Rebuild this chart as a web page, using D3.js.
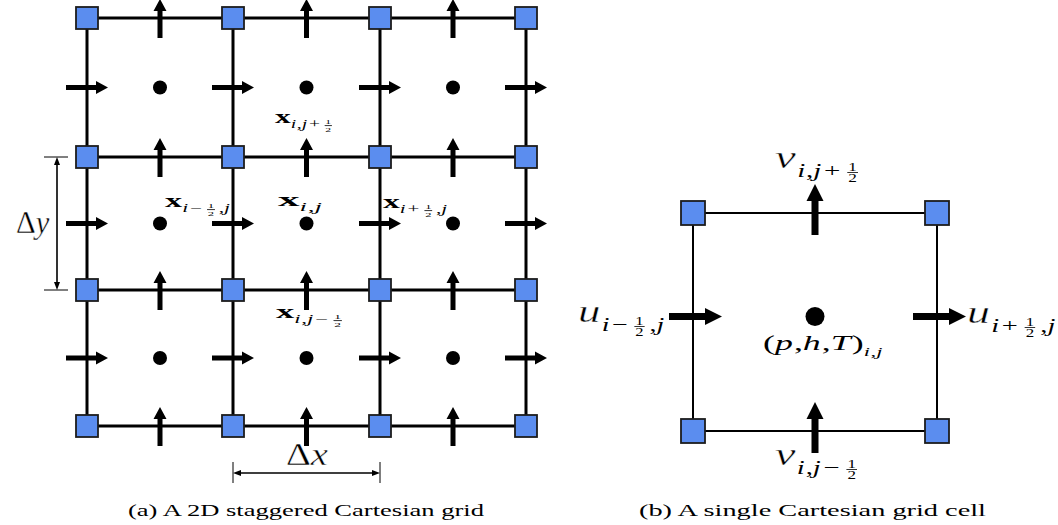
<!DOCTYPE html>
<html>
<head>
<meta charset="utf-8">
<script src="https://cdn.jsdelivr.net/npm/d3@7/dist/d3.min.js"></script>
<style>
  body { margin: 0; background: #fff; }
  svg { display: block; }
  text { font-family: 'Liberation Serif', 'Times New Roman', serif; fill: #000; }
  tspan.thin { stroke: #fff; stroke-width: 0.4px; }
</style>
</head>
<body>
<div id="chart"></div>
<script>
// grid units: line indices and cell centres
const gridLines = [0, 1, 2, 3];
const cellCentres = [0.5, 1.5, 2.5];
const cellEdges = [0, 1];
const cellCentre = [0.5, 0.475];

// labels: base symbol + subscript (½ is drawn as a stacked fraction)
const gridLabels = [
  {base: 'x', bold: true, sub: 'i,j+½'},
  {base: 'x', bold: true, sub: 'i−½,j'},
  {base: 'x', bold: true, sub: 'i,j'},
  {base: 'x', bold: true, sub: 'i+½,j'},
  {base: 'x', bold: true, sub: 'i,j−½'}
];
const cellLabels = [
  {base: 'v', sub: 'i,j+½'},
  {base: 'v', sub: 'i,j−½'},
  {base: 'u', sub: 'i−½,j'},
  {base: 'u', sub: 'i+½,j'},
  {base: '(p,h,T)', sub: 'i,j'}
];
const spacingLabels = [
  {base: 'Δy', sub: ''},
  {base: 'Δx', sub: ''}
];
const captions = ['(a) A 2D staggered Cartesian grid', '(b) A single Cartesian grid cell'];

const W = 1058, H = 525;
const nodeFill = '#5b8def', nodeStroke = '#1c1c1c';

const svg = d3.select('#chart').append('svg')
    .attr('width', W)
    .attr('height', H);

const x = d3.scaleLinear().domain([0, 1, 2, 3]).range([87, 233, 380, 526]);
const y = d3.scaleLinear().domain([0, 1, 2, 3]).range([18, 157, 290, 426]);
const cx = d3.scaleLinear().domain([0, 1]).range([693, 937]);
const cy = d3.scaleLinear().domain([0, 1]).range([213, 431]);

// filled arrow: shaft width sw, head width hw, head length hl
const arrowPath = (x0, y0, x1, y1, sw, hw, hl) => {
  const dx = x1 - x0, dy = y1 - y0, L = Math.hypot(dx, dy);
  const ux = dx / L, uy = dy / L, px = -uy, py = ux;
  const bx = x1 - ux * hl, by = y1 - uy * hl;
  const pts = [
    [x0 + px * sw / 2, y0 + py * sw / 2],
    [bx + px * sw / 2, by + py * sw / 2],
    [bx + px * hw / 2, by + py * hw / 2],
    [x1, y1],
    [bx - px * hw / 2, by - py * hw / 2],
    [bx - px * sw / 2, by - py * sw / 2],
    [x0 - px * sw / 2, y0 - py * sw / 2]
  ];
  return d3.line()(pts) + 'Z';
};

// math-ish label as one text element, fitted into [left, right] at a baseline
function mathLabel(g, lab, size, box) {
  const grp = g.append('g');
  const inner = grp.append('g');
  const txt = inner.append('text');
  let pos = 0;
  const put = (s, fs, dy, italic, bold, anchorMid) => {
    const t = txt.append('tspan')
        .attr('class', fs >= 28 ? 'thin' : null)
        .attr('x', pos)
        .attr('y', dy)
        .style('font-size', fs + 'px')
        .style('font-style', italic ? 'italic' : 'normal')
        .style('font-weight', bold ? 'bold' : 'normal')
        .text(s);
    return t.node().getComputedTextLength();
  };
  for (const ch of lab.base) {
    const italic = !lab.bold && /[a-zA-Z]/.test(ch);
    pos += put(ch, size, 0, italic, lab.bold) + (italic ? size * 0.03 : 0);
  }
  const ss = size * 0.62, sdy = size * 0.28;
  const fs = size * 0.37, bar = sdy - size * 0.14;
  for (const ch of lab.sub) {
    if (ch === '½') {
      const w = fs * 0.62;
      pos += fs * 0.3;
      const start = pos;
      pos = start + w / 2 - fs * 0.25;
      put('1', fs, bar - 1.3, false, false);
      put('2', fs, bar + 1.3 + fs * 0.68, false, false);
      inner.append('line').attr('x1', start).attr('x2', start + w)
          .attr('y1', bar).attr('y2', bar)
          .attr('stroke', '#000').attr('stroke-width', 0.8);
      pos = start + w + fs * 0.3;
    } else if (ch === '+' || ch === '−') {
      pos += ss * 0.06;
      pos += put(ch, ss, sdy, false, false);
      pos += ss * 0.06;
    } else {
      const italic = /[a-zA-Z]/.test(ch);
      pos += put(ch, ss, sdy, italic, false) + (italic ? ss * 0.03 : 0);
    }
  }
  const bb = inner.node().getBBox();
  const sx = (box[1] - box[0]) / bb.width;
  grp.attr('transform', `translate(${box[0] - bb.x * sx},${box[2]}) scale(${sx},1)`);
}

// ---------- (a) staggered grid ----------
const ga = svg.append('g');

ga.append('g').selectAll('line')
    .data(gridLines)
    .join('line')
    .attr('x1', x(0)).attr('x2', x(3))
    .attr('y1', (d) => y(d)).attr('y2', (d) => y(d))
    .attr('stroke', '#000').attr('stroke-width', 3);

ga.append('g').selectAll('line')
    .data(gridLines)
    .join('line')
    .attr('x1', (d) => x(d)).attr('x2', (d) => x(d))
    .attr('y1', y(0)).attr('y2', y(3))
    .attr('stroke', '#000').attr('stroke-width', 3);

// u on vertical faces, v on horizontal faces
const uFaces = d3.cross(gridLines, cellCentres);
const vFaces = d3.cross(cellCentres, gridLines);

ga.append('g').selectAll('path')
    .data(uFaces)
    .join('path')
    .attr('d', ([c, r]) => arrowPath(x(c) - 21, y(r), x(c) + 21, y(r), 5, 13, 12))
    .attr('fill', '#000');

ga.append('g').selectAll('path')
    .data(vFaces)
    .join('path')
    .attr('d', ([c, r]) => arrowPath(x(c), y(r) + 20, x(c), y(r) - 19, 5, 13, 12))
    .attr('fill', '#000');

ga.append('g').selectAll('circle')
    .data(d3.cross(cellCentres, cellCentres))
    .join('circle')
    .attr('cx', ([c]) => x(c))
    .attr('cy', ([, r]) => y(r))
    .attr('r', 7)
    .attr('fill', '#000');

ga.append('g').selectAll('rect')
    .data(d3.cross(gridLines, gridLines))
    .join('rect')
    .attr('x', ([c]) => x(c) - 11)
    .attr('y', ([, r]) => y(r) - 11)
    .attr('width', 22).attr('height', 22)
    .attr('fill', nodeFill)
    .attr('stroke', nodeStroke).attr('stroke-width', 1.8);

// spacing dimensions
const dimY = 57, dimX = 473;
ga.append('path')
    .attr('d', arrowPath(dimY, (y(1) + y(2)) / 2, dimY, y(1), 1.6, 6, 8) +
        arrowPath(dimY, (y(1) + y(2)) / 2, dimY, y(2), 1.6, 6, 8))
    .attr('fill', '#000');
ga.append('g').selectAll('line')
    .data([1, 2])
    .join('line')
    .attr('x1', 44).attr('x2', 68)
    .attr('y1', (d) => y(d)).attr('y2', (d) => y(d))
    .attr('stroke', '#000').attr('stroke-width', 1);
ga.append('path')
    .attr('d', arrowPath((x(1) + x(2)) / 2, dimX, x(1), dimX, 1.6, 6, 8) +
        arrowPath((x(1) + x(2)) / 2, dimX, x(2), dimX, 1.6, 6, 8))
    .attr('fill', '#000');
ga.append('g').selectAll('line')
    .data([1, 2])
    .join('line')
    .attr('x1', (d) => x(d)).attr('x2', (d) => x(d))
    .attr('y1', 462).attr('y2', 483)
    .attr('stroke', '#000').attr('stroke-width', 1);

const gridLabelBox = [
  [275, 332, 123],
  [165, 230, 207],
  [278, 322, 206],
  [383, 447, 208],
  [276, 342, 318]
];
gridLabels.forEach((lab, i) => mathLabel(ga, lab, 19, gridLabelBox[i]));
mathLabel(ga, spacingLabels[0], 32, [16, 50, 233]);
mathLabel(ga, spacingLabels[1], 32, [286, 328, 465]);

// ---------- (b) single cell ----------
const gb = svg.append('g');

gb.append('g').selectAll('line')
    .data(cellEdges)
    .join('line')
    .attr('x1', cx(0)).attr('x2', cx(1))
    .attr('y1', (d) => cy(d)).attr('y2', (d) => cy(d))
    .attr('stroke', '#000').attr('stroke-width', 2);

gb.append('g').selectAll('line')
    .data(cellEdges)
    .join('line')
    .attr('x1', (d) => cx(d)).attr('x2', (d) => cx(d))
    .attr('y1', cy(0)).attr('y2', cy(1))
    .attr('stroke', '#000').attr('stroke-width', 2);

gb.append('g').selectAll('path')
    .data(cellEdges)
    .join('path')
    .attr('d', (d) => arrowPath(cx(d) - 24, cy(cellCentre[1]), cx(d) + 29, cy(cellCentre[1]), 7, 17, 17))
    .attr('fill', '#000');

gb.append('g').selectAll('path')
    .data(cellEdges)
    .join('path')
    .attr('d', (d) => arrowPath(cx(cellCentre[0]), cy(d) + 22, cx(cellCentre[0]), cy(d) - 29, 7, 17, 17))
    .attr('fill', '#000');

gb.append('circle')
    .attr('cx', cx(cellCentre[0]))
    .attr('cy', cy(cellCentre[1]))
    .attr('r', 9.5)
    .attr('fill', '#000');

gb.append('g').selectAll('rect')
    .data(d3.cross(cellEdges, cellEdges))
    .join('rect')
    .attr('x', ([c]) => cx(c) - 12)
    .attr('y', ([, r]) => cy(r) - 12)
    .attr('width', 24).attr('height', 24)
    .attr('fill', nodeFill)
    .attr('stroke', nodeStroke).attr('stroke-width', 1.8);

const cellLabelBox = [
  [775, 858, 168],
  [775, 857, 465],
  [578, 665, 322],
  [967, 1056, 323]
];
cellLabels.slice(0, 4).forEach((lab, i) => mathLabel(gb, lab, 32, cellLabelBox[i]));
mathLabel(gb, cellLabels[4], 21, [763, 883, 350]);

// ---------- captions ----------
svg.append('g').selectAll('text')
    .data(captions)
    .join('text')
    .attr('x', (d, i) => [128, 639][i])
    .attr('y', 516)
    .attr('textLength', (d, i) => [356, 347][i])
    .attr('lengthAdjust', 'spacingAndGlyphs')
    .style('font-size', '17px')
    .text((d) => d);
</script>
</body>
</html>
